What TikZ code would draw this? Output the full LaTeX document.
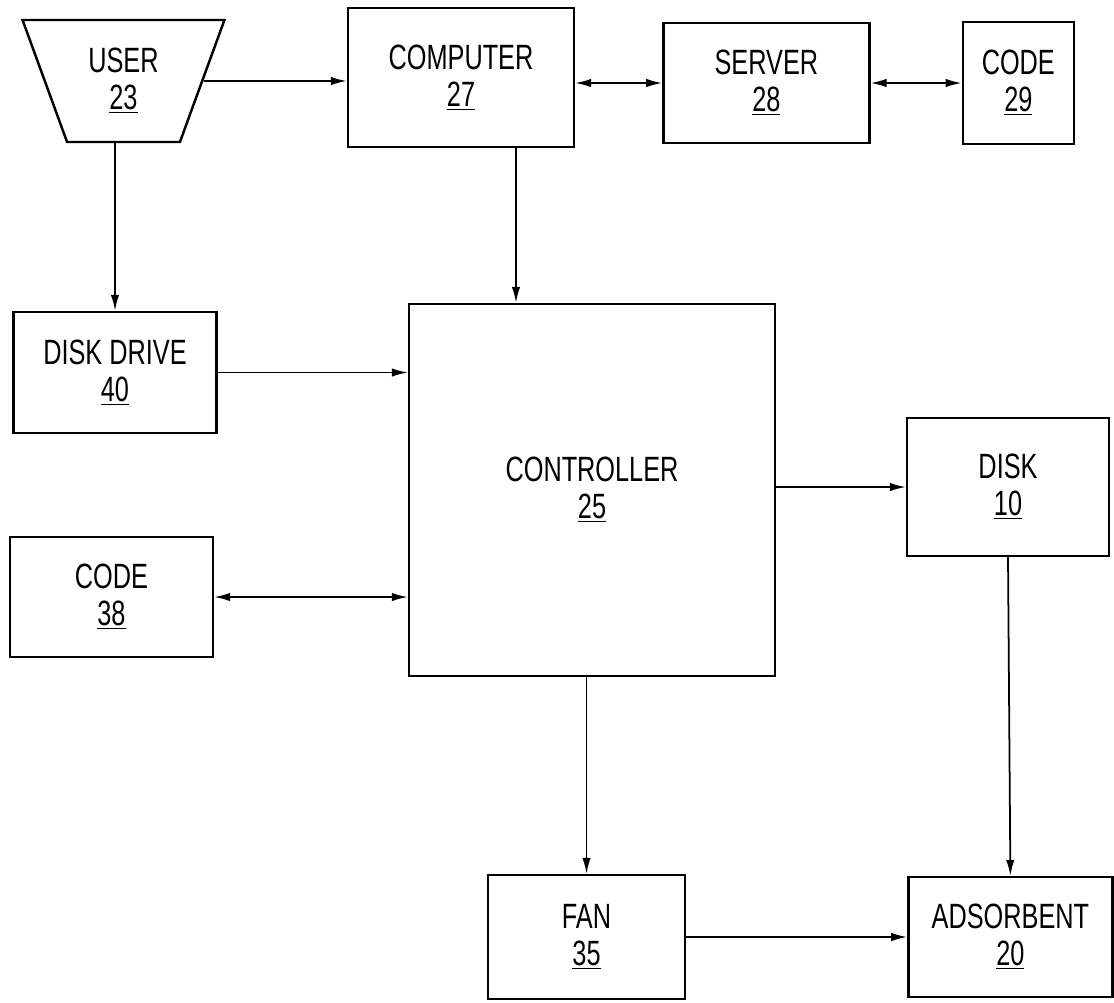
\documentclass[tikz,border=0pt]{standalone}
\usepackage{fontspec}
\newfontfamily\patentfont{Liberation Sans}[FakeStretch=0.72]
\usepackage{tikz}
\usetikzlibrary{arrows.meta,positioning,shapes.geometric}

\begin{document}
\begin{tikzpicture}[
        x=0.02cm, y=-0.02cm,
        every node/.style={font=\patentfont\fontsize{20pt}{21pt}\selectfont},
        block/.style={
            draw,
            line width=1.4pt,
            minimum width=4.06cm,
            minimum height=2.4cm,
            inner sep=0pt,
            align=center
        },
        line/.style={-{Latex[length=3.2mm,width=1.7mm]},line width=1pt},
        dline/.style={{Latex[length=3.2mm,width=1.7mm]}-{Latex[length=3.2mm,width=1.7mm]},line width=1pt}
    ]
        \useasboundingbox (0,0) rectangle (1114,1002);

        \node[block, trapezium, trapezium angle=67, shape border rotate=180,
              trapezium stretches=true, minimum width=4.06cm, minimum height=2.44cm]
              (user) at (123.5,81) {USER\\\underline{23}};
        \node[block, minimum width=4.52cm, minimum height=2.78cm] (computer) at (461,77.5) {COMPUTER\\\underline{27}};
        \node[block, minimum width=4.12cm, right=1.74cm of computer, yshift=-0.11cm] (server) {SERVER\\\underline{28}};
        \node[block, minimum width=2.22cm, minimum height=2.44cm, right=1.82cm of server] (code29) {CODE\\\underline{29}};
        \node[block, minimum height=2.42cm] (drive) at (115,372.5) {DISK DRIVE\\\underline{40}};
        \node[block] (code38) at (111.5,597) {CODE\\\underline{38}};
        \node[block, minimum width=7.32cm, minimum height=7.44cm] (controller) at (592,490) {CONTROLLER\\\underline{25}};
        \node[block, minimum width=4.04cm, minimum height=2.76cm] (disk) at (1008,487) {DISK\\\underline{10}};
        \node[block, minimum width=3.94cm, minimum height=2.48cm] (fan) at (586.5,937) {FAN\\\underline{35}};
        \node[block, minimum width=4.08cm, right=4.42cm of fan] (adsorbent) {ADSORBENT\\\underline{20}};

        \draw[line] (user.east) -- (user.east -| computer.west);
        \draw[line] ([xshift=1.1cm]computer.south) -- ([xshift=1.1cm]computer.south |- controller.north);
        \draw[dline] (computer.east |- server.west) -- (server.west);
        \draw[dline] (server.east) -- (code29.west);
        \draw[line] (drive.north |- user.south) -- (drive.north);
        \draw[line] (drive.east) -- (drive.east -| controller.west);
        \draw[dline] (code38.east) -- (code38.east -| controller.west);
        \draw[line] (disk.west -| controller.east) -- (disk.west);
        \draw[line] (fan.north |- controller.south) -- (fan.north);
        \draw[line] (disk.south) -- (adsorbent.north);
        \draw[line] (fan.east) -- (adsorbent.west);
    \end{tikzpicture}
\end{document}
